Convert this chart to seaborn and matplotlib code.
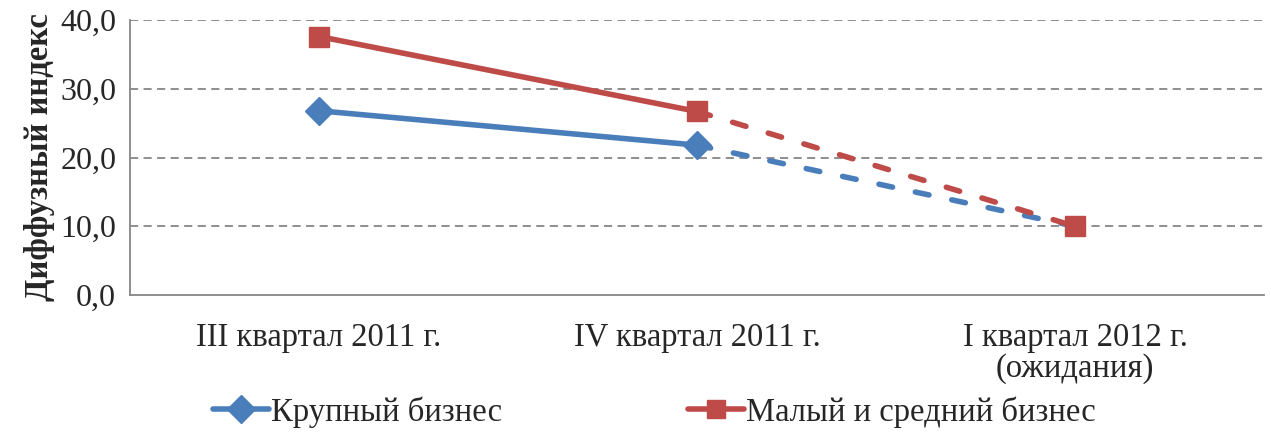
import matplotlib
matplotlib.use("Agg")
import matplotlib.pyplot as plt
import seaborn as sns
import pandas as pd
from matplotlib.lines import Line2D

# data
periods = ["III квартал 2011 г.", "IV квартал 2011 г.", "I квартал 2012 г.\n(ожидания)"]
large_biz = [26.8, 21.8, 10.0]
small_mid_biz = [37.6, 26.7, 10.0]
series_names = ["Крупный бизнес", "Малый и средний бизнес"]
y_ticks = [0, 10, 20, 30, 40]

blue = "#4A7EBB"
red = "#BE4B48"
grey = "#868686"

df = pd.DataFrame({
    "period": periods * 2,
    "value": large_biz + small_mid_biz,
    "series": [series_names[0]] * 3 + [series_names[1]] * 3,
})

sns.set_style("white")
plt.rcParams["font.family"] = ["Liberation Serif", "DejaVu Serif"]

fig = plt.figure(figsize=(12.71, 4.32), dpi=100)
ax = fig.add_axes([0.1023, 0.317, 0.8922, 0.6367])

palette = {series_names[0]: blue, series_names[1]: red}

# solid actual part (first two periods) - drawn first so category order is kept
act = df[df["period"].isin(periods[:2])]
sns.lineplot(data=act, x="period", y="value", hue="series", palette=palette,
             lw=4, legend=False, ax=ax, sort=False, zorder=3)

# dashed forecast part (last two periods)
fc = df[df["period"].isin(periods[1:])]
sns.lineplot(data=fc, x="period", y="value", hue="series", palette=palette,
             lw=4, legend=False, ax=ax, sort=False, zorder=2)
for ln in ax.lines[-2:]:
    ln.set_dashes((2.5, 4.2))
    ln.set_dash_capstyle("round")

# markers (the big-business forecast point sits under the red square)
blue_pts = df[df["series"] == series_names[0]].iloc[:2]
red_pts = df[df["series"] == series_names[1]]
ax.plot(blue_pts["period"], blue_pts["value"], ls="none", marker="D", ms=14,
        color=blue, zorder=4)
ax.plot(red_pts["period"], red_pts["value"], ls="none", marker="s", ms=14,
        color=red, zorder=5)

# gridlines
for t in y_ticks[1:]:
    ax.axhline(t, color=grey, lw=1.3, ls=(0, (4.5, 3)), zorder=0)

ax.set_xlim(-0.5, 2.5)
ax.set_ylim(0, 40)
ax.set_yticks(y_ticks)
ax.set_yticklabels([f"{t:.1f}".replace(".", ",") for t in y_ticks], fontsize=23)
ax.set_xticks(range(len(periods)))
ax.set_xticklabels(periods, fontsize=23.5, linespacing=1.0)
ax.set_xticks([0.5, 1.5], minor=True)
ax.tick_params(axis="x", which="major", length=0, pad=20)
ax.tick_params(axis="x", which="minor", length=7, color=grey, direction="out")
ax.tick_params(axis="y", length=7, color=grey, direction="out", pad=3)
ax.set_xlabel("")
ax.set_ylabel("Диффузный индекс", fontsize=23.5, fontweight="bold", labelpad=4)

for sp in ["top", "right"]:
    ax.spines[sp].set_visible(False)
for sp in ["left", "bottom"]:
    ax.spines[sp].set_color(grey)
    ax.spines[sp].set_linewidth(1.3)

handles = [
    Line2D([], [], color=blue, lw=4, marker="D", ms=14),
    Line2D([], [], color=red, lw=4, marker="s", ms=13),
]
fig.legend(handles, series_names, loc="center", bbox_to_anchor=(0.515, 0.046),
           ncol=2, frameon=False, fontsize=23.5, handlelength=1.72,
           handletextpad=0.05, columnspacing=5.7, borderpad=0)

fig.savefig("out.png", dpi=100)
